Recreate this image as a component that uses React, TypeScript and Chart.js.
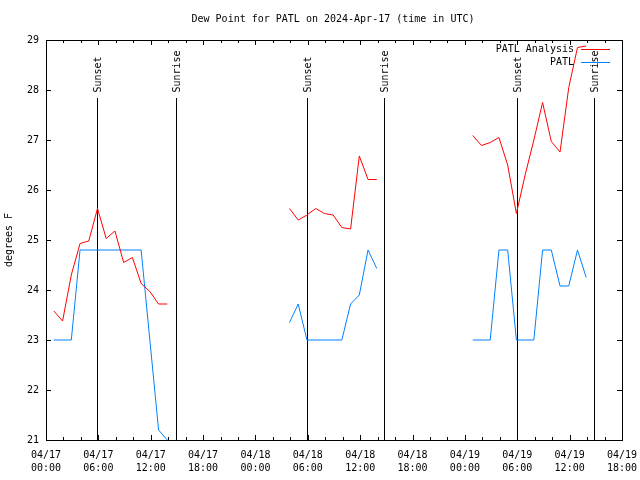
import React, { useEffect, useRef } from "react";
import { Chart, registerables } from "chart.js";

Chart.register(...registerables);

const titleText = "Dew Point for PATL on 2024-Apr-17 (time in UTC)";
const yAxisTitle = "degrees F";

const xTickDates = ["04/17", "04/17", "04/17", "04/17", "04/18", "04/18", "04/18", "04/18", "04/19", "04/19", "04/19", "04/19"];
const xTickTimes = ["00:00", "06:00", "12:00", "18:00", "00:00", "06:00", "12:00", "18:00", "00:00", "06:00", "12:00", "18:00"];
const yTickValues = [21, 22, 23, 24, 25, 26, 27, 28, 29];

// hours since 04/17 00:00 UTC (null entries break the line)
const obsHours = [
  0.9, 1.9, 2.9, 3.9, 4.9, 5.9, 6.9, 7.9, 8.9, 9.9, 10.9, 11.9, 12.9, 13.9,
  20,
  27.9, 28.9, 29.9, 30.9, 31.9, 32.9, 33.9, 34.9, 35.9, 36.9, 37.9,
  44,
  48.9, 49.9, 50.9, 51.9, 52.9, 53.9, 54.9, 55.9, 56.9, 57.9, 58.9, 59.9, 60.9, 61.9,
];

const analysisValues = [
  23.58, 23.38, 24.3, 24.93, 24.98, 25.63, 25.03, 25.18, 24.55, 24.65, 24.13, 23.97, 23.72, 23.72,
  null,
  25.63, 25.4, 25.5, 25.63, 25.53, 25.5, 25.25, 25.22, 26.68, 26.21, 26.21,
  null,
  27.09, 26.89, 26.95, 27.05, 26.5, 25.53, 26.3, 27.0, 27.75, 26.97, 26.76, 28.05, 28.85, 28.88,
];

const patlValues = [
  23.0, 23.0, 23.0, 24.8, 24.8, 24.8, 24.8, 24.8, 24.8, 24.8, 24.8, 23.0, 21.2, 21.0,
  null,
  23.35, 23.72, 23.0, 23.0, 23.0, 23.0, 23.0, 23.72, 23.9, 24.8, 24.43,
  null,
  23.0, 23.0, 23.0, 24.8, 24.8, 23.0, 23.0, 23.0, 24.8, 24.8, 24.08, 24.08, 24.8, 24.25,
];

const sunEventHours = [5.88, 14.9, 29.87, 38.78, 53.92, 62.82];
const sunEventLabels = ["Sunset", "Sunrise", "Sunset", "Sunrise", "Sunset", "Sunrise"];

const seriesNames = ["PATL Analysis", "PATL"];
const seriesColors = ["#ff0000", "#0080ff"];

const FONT = "'DejaVu Sans Mono', monospace";

const gnuplotPlugin = {
  id: "gnuplotDecor",
  beforeDatasetsDraw(chart: any) {
    const { ctx, chartArea, scales } = chart;
    const xs = scales.x;
    ctx.save();
    ctx.strokeStyle = "#000";
    ctx.lineWidth = 1;
    ctx.fillStyle = "#000";
    ctx.font = `10px ${FONT}`;
    sunEventHours.forEach((h, i) => {
      const x = Math.round(xs.getPixelForValue(h)) + 0.5;
      ctx.beginPath();
      ctx.moveTo(x, chartArea.top + 58);
      ctx.lineTo(x, chartArea.bottom);
      ctx.stroke();
      ctx.save();
      ctx.translate(x + 0.5, chartArea.top + 52.5);
      ctx.rotate(-Math.PI / 2);
      ctx.textAlign = "left";
      ctx.textBaseline = "middle";
      ctx.fillText(sunEventLabels[i], 0, 0);
      ctx.restore();
    });
    ctx.restore();
  },
  afterDraw(chart: any) {
    const { ctx, chartArea, scales } = chart;
    const xs = scales.x;
    const ys = scales.y;
    const { left, right, top, bottom } = chartArea;
    ctx.save();
    ctx.strokeStyle = "#000";
    ctx.lineWidth = 1;
    // frame
    ctx.strokeRect(Math.round(left) + 0.5, Math.round(top) + 0.5, Math.round(right - left), Math.round(bottom - top));
    // y ticks
    yTickValues.forEach((v) => {
      const y = Math.round(ys.getPixelForValue(v)) + 0.5;
      ctx.beginPath();
      ctx.moveTo(left, y);
      ctx.lineTo(left + 5, y);
      ctx.moveTo(right, y);
      ctx.lineTo(right - 5, y);
      ctx.stroke();
    });
    // x ticks (major every 6h, minor every 2h)
    for (let h = 0; h <= 66; h += 2) {
      const x = Math.round(xs.getPixelForValue(h)) + 0.5;
      const len = h % 6 === 0 ? 5 : 3;
      ctx.beginPath();
      ctx.moveTo(x, bottom);
      ctx.lineTo(x, bottom - len);
      ctx.moveTo(x, top);
      ctx.lineTo(x, top + len);
      ctx.stroke();
    }
    // title
    ctx.fillStyle = "#000";
    ctx.font = `10px ${FONT}`;
    ctx.textAlign = "center";
    ctx.textBaseline = "middle";
    ctx.fillText(titleText, (left + right) / 2 - 1, 19.5);
    // legend
    ctx.textAlign = "right";
    seriesNames.forEach((name, i) => {
      const y = top + 9 + i * 13;
      ctx.fillStyle = "#000";
      ctx.fillText(name, right - 48, y);
      ctx.strokeStyle = seriesColors[i];
      ctx.beginPath();
      ctx.moveTo(right - 41, Math.round(y) + 0.5);
      ctx.lineTo(right - 12, Math.round(y) + 0.5);
      ctx.stroke();
    });
    ctx.restore();
  },
};

export default function App() {
  const canvasRef = useRef<HTMLCanvasElement | null>(null);

  useEffect(() => {
    const canvas = canvasRef.current;
    if (!canvas) return;
    const mk = (vals: (number | null)[]) => obsHours.map((h, i) => ({ x: h, y: vals[i] }));
    const chart = new Chart(canvas, {
      type: "line",
      data: {
        datasets: [
          {
            label: seriesNames[0],
            data: mk(analysisValues) as any,
            borderColor: seriesColors[0],
            borderWidth: 1,
            pointRadius: 0,
            tension: 0,
            spanGaps: false,
            fill: false,
          },
          {
            label: seriesNames[1],
            data: mk(patlValues) as any,
            borderColor: seriesColors[1],
            borderWidth: 1,
            pointRadius: 0,
            tension: 0,
            spanGaps: false,
            fill: false,
          },
        ],
      },
      options: {
        animation: false,
        responsive: false,
        maintainAspectRatio: false,
        devicePixelRatio: 1,
        layout: { padding: { top: 40, right: 18, left: 0, bottom: 0 } },
        plugins: {
          legend: { display: false },
          title: { display: false },
          tooltip: { enabled: false },
        },
        scales: {
          x: {
            type: "linear",
            min: 0,
            max: 66,
            grid: { display: false, drawTicks: false },
            border: { display: false },
            ticks: {
              stepSize: 6,
              autoSkip: false,
              maxRotation: 0,
              minRotation: 0,
              padding: 9,
              color: "#000",
              font: { family: FONT, size: 10, lineHeight: 1.3 },
              callback: (v: any) => {
                const i = Math.round(Number(v) / 6);
                return [xTickDates[i], xTickTimes[i]];
              },
            },
            afterFit: (s: any) => {
              s.height = 40;
              s.paddingLeft = 0;
              s.paddingRight = 0;
            },
          },
          y: {
            type: "linear",
            min: 21,
            max: 29,
            grid: { display: false, drawTicks: false },
            border: { display: false },
            ticks: {
              stepSize: 1,
              padding: 7,
              color: "#000",
              font: { family: FONT, size: 10 },
              callback: (v: any) => String(v),
            },
            title: {
              display: true,
              text: yAxisTitle,
              color: "#000",
              font: { family: FONT, size: 10 },
              padding: { top: 3, bottom: 0 },
            },
            afterFit: (s: any) => {
              s.width = 46;
              s.paddingTop = 0;
              s.paddingBottom = 0;
            },
          },
        },
      },
      plugins: [gnuplotPlugin],
    });
    return () => chart.destroy();
  }, []);

  return (
    <div style={{ position: "absolute", left: 0, top: 0, width: 640, height: 480, background: "#fff" }}>
      <canvas ref={canvasRef} width={640} height={480} style={{ display: "block", width: 640, height: 480 }} />
    </div>
  );
}
